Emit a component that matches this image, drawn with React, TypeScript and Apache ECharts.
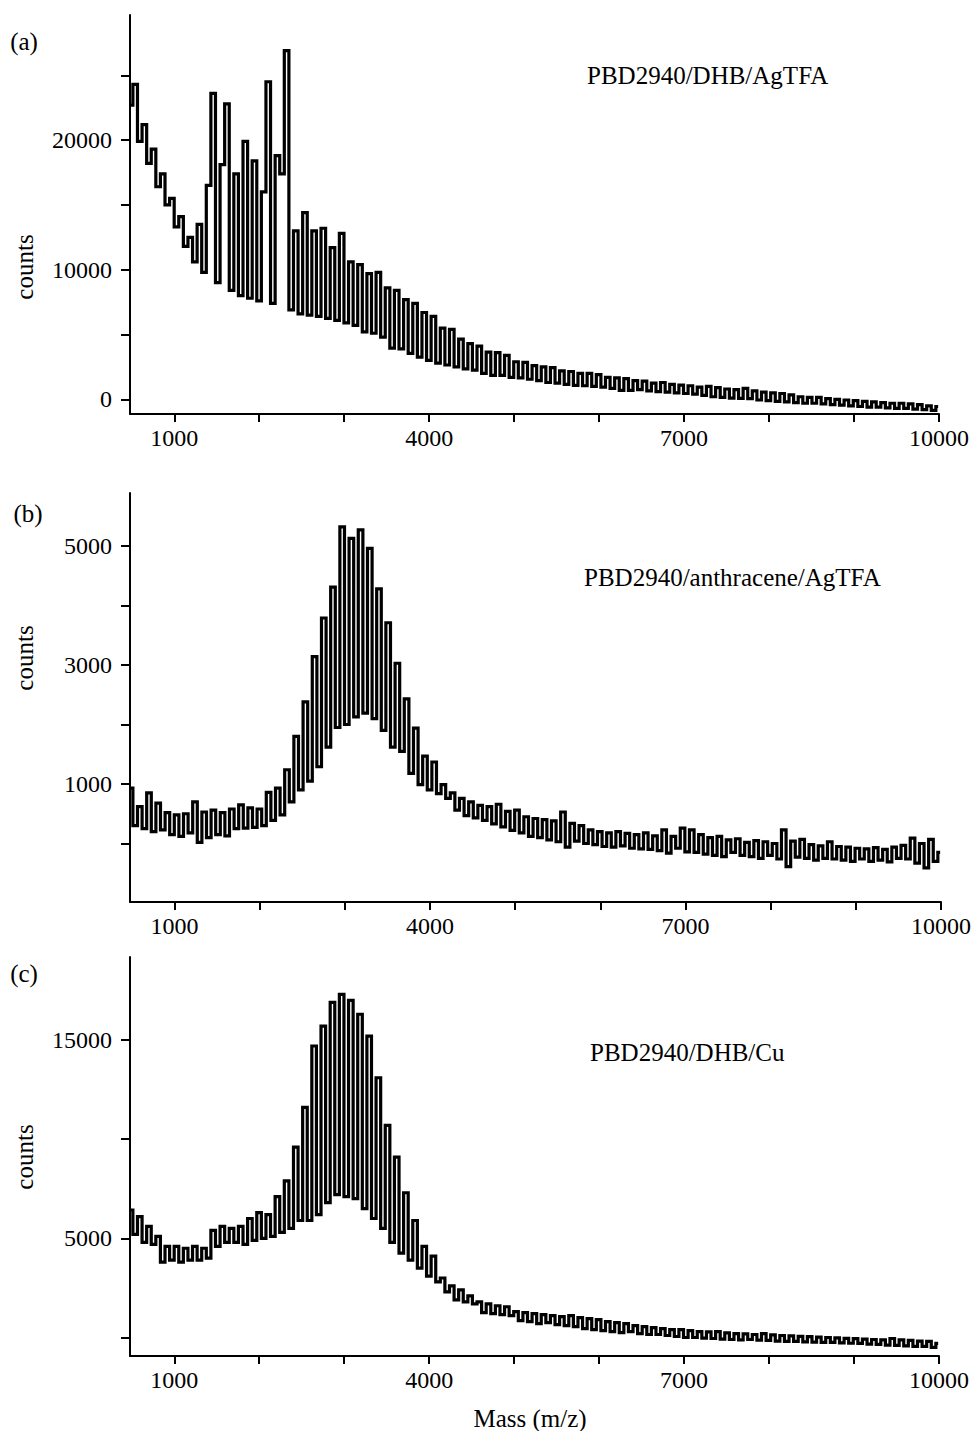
import React, { useEffect, useRef } from "react";
import * as echarts from "echarts";

// Mass grid of the spectra (Da): one sample every butadiene repeat unit
const MASS_START = 486;
const MASS_STEP = 54;

// (a) PBD2940/DHB/AgTFA
const countsA = [
  22700, 24300, 19900, 21200, 18200, 19300, 16400, 17400, 15000, 15500,
  13300, 14100, 11800, 12500, 10600, 13500, 9800, 16500, 23600, 9000,
  18100, 22800, 8400, 17400, 8000, 19900, 7800, 18400, 7600, 16000,
  24500, 7400, 18800, 17400, 26900, 6900, 13000, 6600, 14400, 6500,
  13000, 6400, 13200, 6250, 11700, 6100, 12800, 5900, 10600, 5700,
  10400, 5200, 9700, 5100, 9800, 4800, 8600, 3950, 8400, 3900,
  7700, 3550, 7400, 3250, 6700, 3000, 6400, 2800, 5500, 2650,
  5400, 2500, 4650, 2350, 4300, 2250, 4100, 2000, 3650, 1850,
  3600, 1850, 3400, 1700, 2900, 1650, 2850, 1550, 2600, 1450,
  2500, 1300, 2450, 1250, 2200, 1150, 2150, 1080, 2000, 1050,
  2000, 1000, 1900, 950, 1700, 850, 1650, 700, 1600, 700,
  1450, 750, 1400, 650, 1250, 600, 1300, 550, 1150, 500,
  1100, 450, 1050, 400, 950, 300, 1000, 200, 900, 150,
  800, 100, 750, 80, 850, 50, 650, -50, 550, -100,
  500, -150, 450, -200, 350, -250, 200, -300, 150, -300,
  150, -350, 50, -400, 0, -450, -50, -500, -100, -550,
  -150, -600, -200, -600, -250, -650, -300, -700, -300, -700,
  -350, -750, -400, -800, -500, -850, -550,
];

// (b) PBD2940/anthracene/AgTFA
const countsB = [
  930, 300, 620, 250, 850, 200, 680, 230, 520, 150,
  480, 120, 500, 180, 700, 20, 530, 100, 560, 150,
  520, 130, 580, 250, 650, 260, 600, 270, 580, 300,
  860, 390, 930, 480, 1240, 700, 1800, 900, 2380, 1050,
  3140, 1290, 3790, 1620, 4310, 1950, 5320, 2000, 5130, 2130,
  5270, 2190, 4960, 2100, 4280, 1900, 3710, 1620, 3030, 1550,
  2430, 1180, 1940, 990, 1470, 900, 1370, 840, 990, 760,
  850, 560, 760, 470, 700, 430, 640, 390, 620, 330,
  660, 280, 540, 220, 560, 180, 450, 120, 420, 100,
  400, 60, 380, 30, 530, -60, 340, 40, 300, 0,
  230, -20, 200, -50, 180, -60, 200, -40, 170, -80,
  150, -90, 180, -100, 130, -120, 230, -160, 120, -80,
  260, -140, 230, -150, 150, -180, 100, -200, 120, -220,
  60, -150, 80, -200, 20, -220, 50, -250, 30, -200,
  0, -260, 230, -390, 40, -230, 70, -250, -20, -280,
  -40, -250, 30, -260, -50, -280, -60, -300, -80, -260,
  -90, -300, -70, -280, -100, -310, -60, -250, -30, -260,
  90, -330, 0, -410, 70, -300, -150,
];

// (c) PBD2940/DHB/Cu
const countsC = [
  6430, 5200, 6100, 4800, 5600, 4700, 5100, 3800, 4600, 3900,
  4600, 3800, 4500, 3900, 4600, 3900, 4500, 4000, 5400, 4600,
  5600, 4800, 5500, 4800, 5600, 4700, 6000, 4900, 6300, 5000,
  6200, 5100, 7100, 5300, 7900, 5500, 9600, 5900, 11600, 5900,
  14700, 6200, 15700, 6800, 16900, 7200, 17300, 7100, 17000, 7000,
  16300, 6500, 15200, 6000, 13100, 5500, 10700, 4800, 9100, 4250,
  7300, 3900, 5900, 3500, 4600, 3100, 4100, 2800, 3000, 2300,
  2600, 1900, 2400, 1800, 2100, 1700, 1800, 1250, 1700, 1200,
  1600, 1150, 1550, 1100, 1300, 850, 1250, 800, 1200, 700,
  1150, 750, 1100, 650, 1050, 600, 1100, 550, 1000, 450,
  950, 400, 900, 350, 800, 300, 750, 250, 700, 300,
  600, 200, 550, 150, 500, 150, 450, 100, 400, 50,
  400, 0, 350, 0, 300, -30, 280, -50, 300, -80,
  230, -100, 200, -120, 180, -100, 150, -130, 200, -150,
  130, -180, 100, -200, 80, -200, 60, -220, 40, -230,
  20, -250, 0, -250, -20, -270, -40, -290, -60, -300,
  -80, -330, -100, -350, -120, -380, -50, -400, -120, -420,
  -150, -450, -180, -450, -200, -500, -300,
];

const xTickValues = [1000, 2000, 3000, 4000, 5000, 6000, 7000, 8000, 9000, 10000];
const xLabelValues = [1000, 4000, 7000, 10000];

const yTicksA = [0, 5000, 10000, 15000, 20000, 25000];
const yLabelsA = [0, 10000, 20000];
const yTicksB = [0, 1000, 2000, 3000, 4000, 5000];
const yLabelsB = [1000, 3000, 5000];
const yTicksC = [0, 5000, 10000, 15000];
const yLabelsC = [5000, 15000];

const panelLetters = ["(a)", "(b)", "(c)"];
const panelTitles = ["PBD2940/DHB/AgTFA", "PBD2940/anthracene/AgTFA", "PBD2940/DHB/Cu"];
const yName = "counts";
const xName = "Mass (m/z)";

const FONT = '"Liberation Serif", "Times New Roman", serif';

export default function App() {
  const ref = useRef<HTMLDivElement>(null);

  useEffect(() => {
    if (!ref.current) return;
    const chart = echarts.init(ref.current, undefined, { renderer: "svg" });

    const panels = [
      { top: 15, height: 399, right: 939, ymin: -1130, ymax: 29650, counts: countsA, ticks: yTicksA, labels: yLabelsA },
      { top: 493, height: 409, right: 941, ymin: -983, ymax: 5891, counts: countsB, ticks: yTicksB, labels: yLabelsB },
      { top: 957, height: 399, right: 939, ymin: -933, ymax: 19188, counts: countsC, ticks: yTicksC, labels: yLabelsC },
    ];
    const xmin = 479;

    const axisLine = { onZero: false, lineStyle: { color: "#000", width: 2 } };
    const tickStyle = { color: "#000", width: 2 };
    const labelStyle = { color: "#000", fontSize: 24, fontFamily: FONT };

    const option: any = {
      animation: false,
      backgroundColor: "#fff",
      grid: panels.map((p) => ({ left: 130, top: p.top, width: p.right - 130, height: p.height })),
      xAxis: panels.map((p, k) => ({
        type: "value",
        gridIndex: k,
        min: xmin,
        max: 10000,
        axisLine,
        axisTick: { show: true, customValues: xTickValues, length: 8, lineStyle: tickStyle },
        axisLabel: { ...labelStyle, customValues: xLabelValues, margin: 12, formatter: (v: number) => String(v) },
        splitLine: { show: false },
      })),
      yAxis: panels.map((p, k) => ({
        type: "value",
        gridIndex: k,
        min: p.ymin,
        max: p.ymax,
        axisLine,
        axisTick: { show: true, customValues: p.ticks, length: 9, lineStyle: tickStyle },
        axisLabel: { ...labelStyle, customValues: p.labels, margin: 18, formatter: (v: number) => String(v) },
        splitLine: { show: false },
      })),
      series: panels.map((p, k) => ({
        type: "line",
        xAxisIndex: k,
        yAxisIndex: k,
        step: "middle",
        symbol: "none",
        silent: true,
        lineStyle: { color: "#000", width: 3.2, join: "miter" },
        data: p.counts.map((c, i) => [MASS_START + MASS_STEP * i, c]),
      })),
      graphic: [
        ...[41, 513, 973].map((y, k) => ({
          type: "text",
          x: k === 1 ? 28 : 24,
          y,
          style: { text: panelLetters[k], fontSize: 25, fontFamily: FONT, fill: "#000", textAlign: "center", textVerticalAlign: "middle" },
        })),
        ...[
          [587, 75],
          [584, 577],
          [590, 1052],
        ].map(([x, y], k) => ({
          type: "text",
          x,
          y,
          style: { text: panelTitles[k], fontSize: 25, fontFamily: FONT, fill: "#000", textAlign: "left", textVerticalAlign: "middle" },
        })),
        ...[267, 658, 1157].map((y) => ({
          type: "text",
          x: 24,
          y,
          rotation: Math.PI / 2,
          style: { text: yName, fontSize: 25, fontFamily: FONT, fill: "#000", textAlign: "center", textVerticalAlign: "middle" },
        })),
        {
          type: "text",
          x: 530,
          y: 1418,
          style: { text: xName, fontSize: 25, fontFamily: FONT, fill: "#000", textAlign: "center", textVerticalAlign: "middle" },
        },
      ],
    };

    chart.setOption(option);
    return () => chart.dispose();
  }, []);

  return (
    <div
      ref={ref}
      style={{ position: "absolute", left: 0, top: 0, width: 979, height: 1431, background: "#fff" }}
    />
  );
}
